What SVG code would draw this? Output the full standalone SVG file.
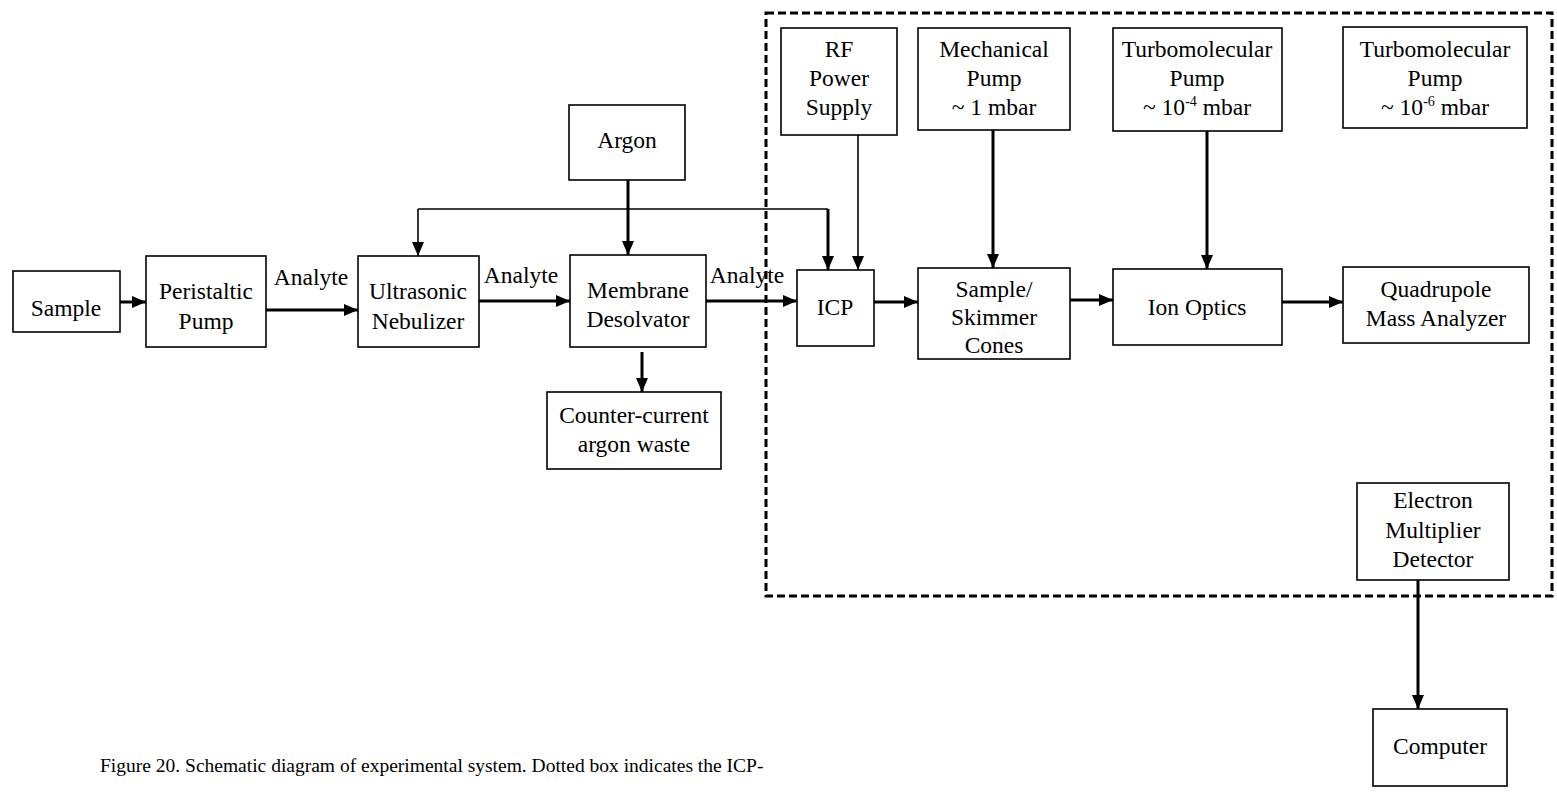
<svg xmlns="http://www.w3.org/2000/svg" width="1557" height="792" viewBox="0 0 1557 792">
<style>
.box{fill:#fff;stroke:#000;stroke-width:1.6}
.t{font-family:"Liberation Serif","Times New Roman",serif;font-size:23.5px;fill:#000;text-anchor:middle}
.cap{font-family:"Liberation Serif","Times New Roman",serif;font-size:19.5px;fill:#000}
.thick{stroke:#000;stroke-width:3;fill:none}
.thin{stroke:#000;stroke-width:1.6;fill:none}
.sup{font-size:14px}
</style>
<defs>
<marker id="ah" markerUnits="userSpaceOnUse" markerWidth="14" markerHeight="12" refX="14" refY="6" orient="auto">
<path d="M0,0 L14,6 L0,12 Z" fill="#000"/>
</marker>
</defs>
<rect width="1557" height="792" fill="#fff"/>
<rect id="icpms-boundary" x="766" y="13" width="786" height="583" fill="none" stroke="#000" stroke-width="3" stroke-dasharray="8,4"/>
<g id="connectors">
<line class="thick" x1="120" y1="302" x2="146" y2="302" marker-end="url(#ah)"/>
<line class="thick" x1="266" y1="310" x2="358" y2="310" marker-end="url(#ah)"/>
<line class="thick" x1="479" y1="301" x2="570" y2="301" marker-end="url(#ah)"/>
<line class="thick" x1="706" y1="301" x2="797" y2="301" marker-end="url(#ah)"/>
<line class="thick" x1="628" y1="180" x2="628" y2="255" marker-end="url(#ah)"/>
<polyline class="thin" points="418,209 828,209"/>
<line class="thin" x1="418" y1="209" x2="418" y2="256" marker-end="url(#ah)"/>
<line class="thick" x1="828" y1="209" x2="828" y2="270" marker-end="url(#ah)"/>
<line class="thin" x1="858" y1="135" x2="858" y2="270" marker-end="url(#ah)"/>
<line class="thick" x1="642" y1="352" x2="642" y2="392" marker-end="url(#ah)"/>
<line class="thick" x1="874" y1="302" x2="918" y2="302" marker-end="url(#ah)"/>
<line class="thick" x1="993" y1="130" x2="993" y2="268" marker-end="url(#ah)"/>
<line class="thick" x1="1070" y1="300" x2="1113" y2="300" marker-end="url(#ah)"/>
<line class="thick" x1="1207" y1="131" x2="1207" y2="269" marker-end="url(#ah)"/>
<line class="thick" x1="1282" y1="302" x2="1343" y2="302" marker-end="url(#ah)"/>
<line class="thick" x1="1418" y1="580" x2="1418" y2="709" marker-end="url(#ah)"/>
<text class="t" x="311" y="285">Analyte</text>
<text class="t" x="521" y="283">Analyte</text>
<text class="t" x="747" y="283">Analyte</text>
</g>
<g id="sample"><rect class="box" x="13" y="271" width="107" height="61"/><text class="t" x="66" y="316">Sample</text></g>
<g id="peristaltic-pump"><rect class="box" x="146" y="256" width="120" height="91"/><text class="t" x="206" y="299">Peristaltic</text><text class="t" x="206" y="329">Pump</text></g>
<g id="ultrasonic-nebulizer"><rect class="box" x="358" y="256" width="121" height="91"/><text class="t" x="418" y="299">Ultrasonic</text><text class="t" x="418" y="329">Nebulizer</text></g>
<g id="argon"><rect class="box" x="569" y="105" width="116" height="75"/><text class="t" x="627" y="148">Argon</text></g>
<g id="membrane-desolvator"><rect class="box" x="570" y="255" width="136" height="92"/><text class="t" x="638" y="298">Membrane</text><text class="t" x="638" y="327">Desolvator</text></g>
<g id="counter-current"><rect class="box" x="547" y="392" width="174" height="77"/><text class="t" x="634" y="423">Counter-current</text><text class="t" x="634" y="452">argon waste</text></g>
<g id="rf-power"><rect class="box" x="781" y="28" width="116" height="107"/><text class="t" x="839" y="57">RF</text><text class="t" x="839" y="86">Power</text><text class="t" x="839" y="115">Supply</text></g>
<g id="mechanical-pump"><rect class="box" x="918" y="28" width="152" height="102"/><text class="t" x="994" y="57">Mechanical</text><text class="t" x="994" y="86">Pump</text><text class="t" x="994" y="115">~ 1 mbar</text></g>
<g id="turbo-pump-1"><rect class="box" x="1113" y="28" width="169" height="103"/><text class="t" x="1197" y="57">Turbomolecular</text><text class="t" x="1197" y="86">Pump</text><text class="t" x="1197" y="115">~ 10<tspan class="sup" dy="-9">-4</tspan><tspan dy="9"> mbar</tspan></text></g>
<g id="turbo-pump-2"><rect class="box" x="1343" y="27" width="184" height="101"/><text class="t" x="1435" y="57">Turbomolecular</text><text class="t" x="1435" y="86">Pump</text><text class="t" x="1435" y="115">~ 10<tspan class="sup" dy="-9">-6</tspan><tspan dy="9"> mbar</tspan></text></g>
<g id="icp"><rect class="box" x="797" y="270" width="77" height="76"/><text class="t" x="835" y="315">ICP</text></g>
<g id="cones"><rect class="box" x="918" y="268" width="152" height="91"/><text class="t" x="994" y="297">Sample/</text><text class="t" x="994" y="325">Skimmer</text><text class="t" x="994" y="353">Cones</text></g>
<g id="ion-optics"><rect class="box" x="1113" y="269" width="169" height="76"/><text class="t" x="1197" y="315">Ion Optics</text></g>
<g id="quadrupole"><rect class="box" x="1343" y="267" width="186" height="76"/><text class="t" x="1436" y="297">Quadrupole</text><text class="t" x="1436" y="326">Mass Analyzer</text></g>
<g id="detector"><rect class="box" x="1357" y="483" width="152" height="97"/><text class="t" x="1433" y="508">Electron</text><text class="t" x="1433" y="538">Multiplier</text><text class="t" x="1433" y="567">Detector</text></g>
<g id="computer"><rect class="box" x="1373" y="709" width="134" height="77"/><text class="t" x="1440" y="754">Computer</text></g>
<text class="cap" x="100" y="772">Figure 20. Schematic diagram of experimental system. Dotted box indicates the ICP-</text>
</svg>
